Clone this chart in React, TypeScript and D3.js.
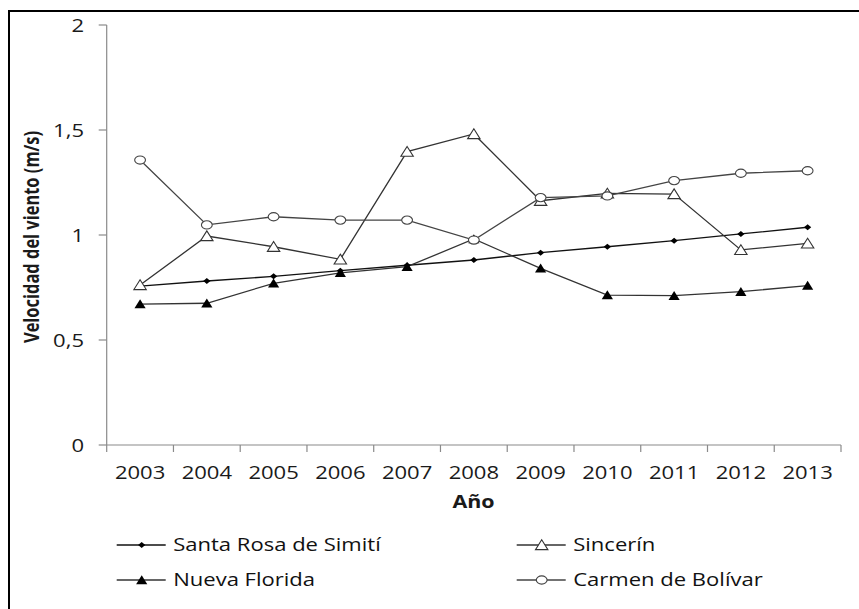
import React from "react";
import * as d3 from "d3";

const years = ["2003","2004","2005","2006","2007","2008","2009","2010","2011","2012","2013"];
const santaRosa = [0.757,0.781,0.803,0.830,0.856,0.881,0.916,0.944,0.973,1.005,1.037];
const sincerin = [0.762,0.995,0.944,0.884,1.397,1.481,1.163,1.198,1.195,0.929,0.960];
const nuevaFlorida = [0.671,0.675,0.770,0.820,0.849,0.981,0.841,0.714,0.711,0.730,0.759];
const carmen = [1.357,1.048,1.087,1.071,1.071,0.976,1.178,1.186,1.259,1.294,1.306];
const yTicks = [0,0.5,1,1.5,2];
const yTickLabels = ["0","0,5","1","1,5","2"];

type Marker = "diamond" | "openTri" | "filledTri" | "circle";
const series: { name: string; values: number[]; marker: Marker; color: string }[] = [
  { name: "Santa Rosa de Simití", values: santaRosa, marker: "diamond", color: "#111" },
  { name: "Sincerín", values: sincerin, marker: "openTri", color: "#333" },
  { name: "Nueva Florida", values: nuevaFlorida, marker: "filledTri", color: "#333" },
  { name: "Carmen de Bolívar", values: carmen, marker: "circle", color: "#444" },
];

const SX = 1.16;
const FONT = "'Open Sans', 'DejaVu Sans', sans-serif";

function MarkerShape({ type, x, y }: { type: Marker; x: number; y: number }) {
  if (type === "diamond") {
    return <path d={`M${x - 3.6},${y} L${x},${y - 3} L${x + 3.6},${y} L${x},${y + 3} Z`} fill="#000" />;
  }
  if (type === "circle") {
    return <ellipse cx={x} cy={y} rx={5.4} ry={4.1} fill="#fff" stroke="#444" strokeWidth={1.1} />;
  }
  if (type === "openTri") {
    return <path d={`M${x},${y - 5.2} L${x + 6.2},${y + 4.6} L${x - 6.2},${y + 4.6} Z`} fill="#fff" stroke="#333" strokeWidth={1.1} />;
  }
  return <path d={`M${x},${y - 4.8} L${x + 5.6},${y + 4.2} L${x - 5.6},${y + 4.2} Z`} fill="#000" />;
}

export default function App() {
  const W = 859, H = 609;
  const x0 = 106.7, x1 = 841, yTop = 25, yBot = 445;
  const x = d3.scaleBand<string>().domain(years).range([x0, x1]).padding(0);
  const y = d3.scaleLinear().domain([0, 2]).range([yBot, yTop]);
  const cx = (yr: string) => (x(yr) as number) + x.bandwidth() / 2;
  const line = d3.line<number>().x((_, i) => cx(years[i])).y((v) => y(v));
  const axisColor = "#8a8a8a";

  const legendPos = [
    { lx: 116.7, ly: 545 },
    { lx: 516.7, ly: 545 },
    { lx: 116.7, ly: 580 },
    { lx: 516.7, ly: 580 },
  ];

  return (
    <svg width={W} height={H} style={{ position: "absolute", left: 0, top: 0, background: "#fff" }} fontFamily={FONT}>
      <rect x={0} y={0} width={W} height={H} fill="#fff" />
      <rect x={9} y={11} width={1000} height={800} fill="none" stroke="#000" strokeWidth={2} />

      {/* y axis */}
      <line x1={x0} x2={x0} y1={yTop} y2={yBot + 7} stroke={axisColor} strokeWidth={1.2} />
      {yTicks.map((t, i) => (
        <g key={t}>
          <line x1={x0 - 8} x2={x0} y1={y(t)} y2={y(t)} stroke={axisColor} strokeWidth={1.2} />
          <text transform={`translate(84,${y(t) + 6.5}) scale(${SX},1)`} textAnchor="end" fontSize={19} fill="#1a1a1a">
            {yTickLabels[i]}
          </text>
        </g>
      ))}

      {/* x axis */}
      <line x1={x0} x2={x1} y1={yBot} y2={yBot} stroke={axisColor} strokeWidth={1.2} />
      {years.map((yr) => (
        <line key={"t" + yr} x1={(x(yr) as number) + x.bandwidth()} x2={(x(yr) as number) + x.bandwidth()} y1={yBot} y2={yBot + 7} stroke={axisColor} strokeWidth={1.2} />
      ))}
      {years.map((yr) => (
        <text key={"l" + yr} transform={`translate(${cx(yr)},479) scale(${SX},1)`} textAnchor="middle" fontSize={19} fill="#1a1a1a">
          {yr}
        </text>
      ))}

      <text transform={`translate(473.5,508) scale(${SX},1)`} textAnchor="middle" fontSize={18.5} fontWeight="bold" fill="#1a1a1a">
        Año
      </text>
      <text transform={`translate(38.5,237) rotate(-90) scale(0.865,1.1)`} textAnchor="middle" fontSize={19} fontWeight="bold" fill="#1a1a1a">
        Velocidad del viento (m/s)
      </text>

      {/* series */}
      {series.map((s) => (
        <path key={"p" + s.name} d={line(s.values) as string} fill="none" stroke={s.color} strokeWidth={1.3} />
      ))}
      {series.map((s) =>
        s.values.map((v, i) => <MarkerShape key={s.name + i} type={s.marker} x={cx(years[i])} y={y(v)} />)
      )}

      {/* legend */}
      {series.map((s, i) => {
        const p = legendPos[i];
        return (
          <g key={"lg" + s.name}>
            <line x1={p.lx} x2={p.lx + 49} y1={p.ly} y2={p.ly} stroke={s.color} strokeWidth={1.3} />
            <MarkerShape type={s.marker} x={p.lx + 25} y={p.ly} />
            <text transform={`translate(${p.lx + 56.5},${p.ly + 5.5}) scale(${SX},1)`} fontSize={19} fill="#111">
              {s.name}
            </text>
          </g>
        );
      })}
    </svg>
  );
}
